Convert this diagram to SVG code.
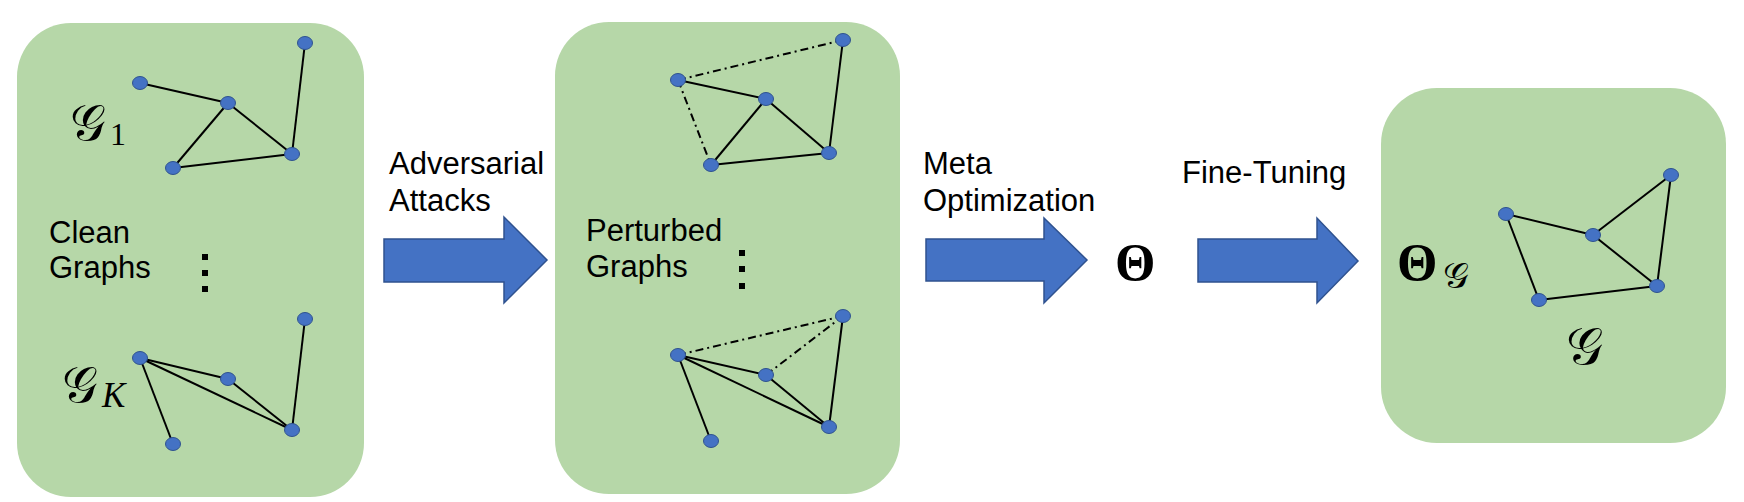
<svg xmlns="http://www.w3.org/2000/svg" width="1744" height="502" viewBox="0 0 1744 502">
<style>
.box{fill:#B6D7A8;}
.node{fill:#4472C4;stroke:#2F528F;stroke-width:1;}
.e{stroke:#000;stroke-width:2;fill:none;}
.d{stroke:#000;stroke-width:2;fill:none;stroke-dasharray:8 4 2 4;}
.arrow{fill:#4472C4;stroke:#2F528F;stroke-width:1.5;}
.lbl{font-family:"Liberation Sans",Arial,sans-serif;font-size:31px;fill:#000;}
.cal{font-family:"DejaVu Serif","DejaVu Sans",serif;font-style:normal;fill:#000;}
.math{font-family:"Liberation Serif","Times New Roman",serif;fill:#000;}
.dot{fill:#000;}
</style>
<rect width="1744" height="502" fill="#fff"/>

<g id="box-clean">
<rect class="box" x="17" y="23" width="347" height="474" rx="54" ry="54"/>
<text class="cal" x="70" y="140" font-size="50">𝒢</text>
<text class="math" x="110" y="145" font-size="32">1</text>
<text class="cal" x="62" y="402" font-size="50">𝒢</text>
<text class="math" x="102" y="407" font-size="35" font-style="italic">K</text>
<text class="lbl" x="49" y="243">Clean</text>
<text class="lbl" x="49" y="278">Graphs</text>
<rect class="dot" x="202" y="254" width="6" height="6"/>
<rect class="dot" x="202" y="270" width="6" height="6"/>
<rect class="dot" x="202" y="286" width="6" height="6"/>
</g>

<g id="box-perturbed">
<rect class="box" x="555" y="22" width="345" height="472" rx="54" ry="54"/>
<text class="lbl" x="586" y="241">Perturbed</text>
<text class="lbl" x="586" y="277">Graphs</text>
<rect class="dot" x="739" y="250" width="6" height="6"/>
<rect class="dot" x="739" y="266" width="6" height="6"/>
<rect class="dot" x="739" y="283" width="6" height="6"/>
</g>

<g id="box-target">
<rect class="box" x="1381" y="88" width="345" height="355" rx="56" ry="56"/>
<text class="math" x="1397" y="280" font-size="52" font-weight="bold">Θ</text>
<text class="cal" x="1443" y="288" font-size="36">𝒢</text>
<text class="cal" x="1566" y="364" font-size="52">𝒢</text>
</g>

<g id="connectors">
<!-- G1 -->
<line class="e" x1="140" y1="83" x2="228" y2="103"/>
<line class="e" x1="228" y1="103" x2="292" y2="154"/>
<line class="e" x1="228" y1="103" x2="173" y2="168"/>
<line class="e" x1="173" y1="168" x2="292" y2="154"/>
<line class="e" x1="292" y1="154" x2="305" y2="43"/>
<!-- GK -->
<line class="e" x1="140" y1="358" x2="228" y2="379"/>
<line class="e" x1="140" y1="358" x2="292" y2="430"/>
<line class="e" x1="140" y1="358" x2="173" y2="444"/>
<line class="e" x1="228" y1="379" x2="292" y2="430"/>
<line class="e" x1="292" y1="430" x2="305" y2="319"/>
<!-- perturbed top -->
<line class="e" x1="678" y1="80" x2="766" y2="99"/>
<line class="e" x1="766" y1="99" x2="829" y2="153"/>
<line class="e" x1="766" y1="99" x2="711" y2="165"/>
<line class="e" x1="711" y1="165" x2="829" y2="153"/>
<line class="e" x1="829" y1="153" x2="843" y2="40"/>
<line class="d" x1="678" y1="80" x2="843" y2="40"/>
<line class="d" x1="678" y1="80" x2="711" y2="165"/>
<!-- perturbed bottom -->
<line class="e" x1="678" y1="355" x2="766" y2="375"/>
<line class="e" x1="678" y1="355" x2="829" y2="427"/>
<line class="e" x1="678" y1="355" x2="711" y2="441"/>
<line class="e" x1="766" y1="375" x2="829" y2="427"/>
<line class="e" x1="829" y1="427" x2="843" y2="316"/>
<line class="d" x1="678" y1="355" x2="843" y2="316"/>
<line class="d" x1="766" y1="375" x2="843" y2="316"/>
<!-- target -->
<line class="e" x1="1506" y1="214" x2="1593" y2="235"/>
<line class="e" x1="1506" y1="214" x2="1539" y2="300"/>
<line class="e" x1="1539" y1="300" x2="1657" y2="286"/>
<line class="e" x1="1593" y1="235" x2="1657" y2="286"/>
<line class="e" x1="1593" y1="235" x2="1671" y2="175"/>
<line class="e" x1="1671" y1="175" x2="1657" y2="286"/>

<!-- block arrows -->
<polygon class="arrow" points="384,239 504,239 504,217 547,260 504,303 504,282 384,282"/>
<polygon class="arrow" points="926,239 1044,239 1044,218 1087,260 1044,303 1044,281 926,281"/>
<polygon class="arrow" points="1198,239 1317,239 1317,218 1358,261 1317,303 1317,282 1198,282"/>
</g>

<g id="nodes-g1">
<ellipse class="node" cx="140" cy="83" rx="7.5" ry="6.5"/>
<ellipse class="node" cx="228" cy="103" rx="7.5" ry="6.5"/>
<ellipse class="node" cx="305" cy="43" rx="7.5" ry="6.5"/>
<ellipse class="node" cx="292" cy="154" rx="7.5" ry="6.5"/>
<ellipse class="node" cx="173" cy="168" rx="7.5" ry="6.5"/>
</g>
<g id="nodes-gk">
<ellipse class="node" cx="305" cy="319" rx="7.5" ry="6.5"/>
<ellipse class="node" cx="140" cy="358" rx="7.5" ry="6.5"/>
<ellipse class="node" cx="228" cy="379" rx="7.5" ry="6.5"/>
<ellipse class="node" cx="292" cy="430" rx="7.5" ry="6.5"/>
<ellipse class="node" cx="173" cy="444" rx="7.5" ry="6.5"/>
</g>
<g id="nodes-p1">
<ellipse class="node" cx="678" cy="80" rx="7.5" ry="6.5"/>
<ellipse class="node" cx="766" cy="99" rx="7.5" ry="6.5"/>
<ellipse class="node" cx="843" cy="40" rx="7.5" ry="6.5"/>
<ellipse class="node" cx="829" cy="153" rx="7.5" ry="6.5"/>
<ellipse class="node" cx="711" cy="165" rx="7.5" ry="6.5"/>
</g>
<g id="nodes-pk">
<ellipse class="node" cx="843" cy="316" rx="7.5" ry="6.5"/>
<ellipse class="node" cx="678" cy="355" rx="7.5" ry="6.5"/>
<ellipse class="node" cx="766" cy="375" rx="7.5" ry="6.5"/>
<ellipse class="node" cx="829" cy="427" rx="7.5" ry="6.5"/>
<ellipse class="node" cx="711" cy="441" rx="7.5" ry="6.5"/>
</g>
<g id="nodes-target">
<ellipse class="node" cx="1506" cy="214" rx="7.5" ry="6.5"/>
<ellipse class="node" cx="1593" cy="235" rx="7.5" ry="6.5"/>
<ellipse class="node" cx="1671" cy="175" rx="7.5" ry="6.5"/>
<ellipse class="node" cx="1657" cy="286" rx="7.5" ry="6.5"/>
<ellipse class="node" cx="1539" cy="300" rx="7.5" ry="6.5"/>
</g>

<g id="labels">
<text class="lbl" x="389" y="174">Adversarial</text>
<text class="lbl" x="389" y="211">Attacks</text>
<text class="lbl" x="923" y="174">Meta</text>
<text class="lbl" x="923" y="211">Optimization</text>
<text class="lbl" x="1182" y="183">Fine-Tuning</text>
<text id="theta" class="math" x="1115" y="280" font-size="52" font-weight="bold">Θ</text>
</g>
</svg>
